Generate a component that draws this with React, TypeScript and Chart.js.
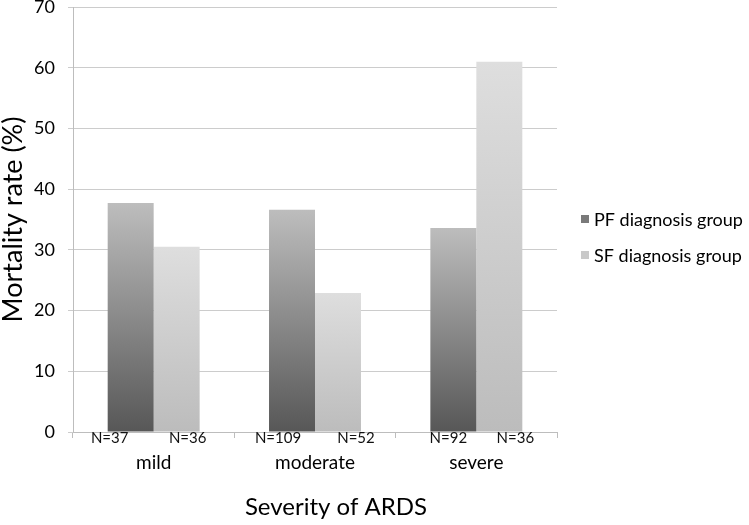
import React, { useEffect, useRef } from "react";
import { Chart, registerables } from "chart.js";

Chart.register(...registerables);

const categories = ["mild", "moderate", "severe"];
const seriesLabels = ["PF diagnosis group", "SF diagnosis group"];
const pfValues = [37.7, 36.6, 33.6];
const sfValues = [30.5, 22.9, 61.0];
const pfN = [37, 109, 92];
const sfN = [36, 52, 36];
const yTicks = [0, 10, 20, 30, 40, 50, 60, 70];

// label nudges (style only), in px from bar centre
const PF_N_NUDGE = [-21, -14, -5];
const SF_N_NUDGE = [11, 18, 16];

const FONT = "Lato, 'Open Sans', 'DejaVu Sans', sans-serif";

function gradFor(ctx: any, top: string, bottom: string) {
  const chart = ctx.chart;
  const y = chart.scales?.y;
  const c = chart.ctx;
  if (!y || ctx.type !== "data") return bottom;
  const v = ctx.raw as number;
  const yTop = y.getPixelForValue(v);
  const yBot = y.getPixelForValue(0);
  if (!isFinite(yTop) || !isFinite(yBot) || yTop === yBot) return bottom;
  const g = c.createLinearGradient(0, yBot, 0, yTop);
  g.addColorStop(0, bottom);
  g.addColorStop(1, top);
  return g;
}

const extrasPlugin = {
  id: "extras",
  afterDraw(chart: any) {
    const ctx = chart.ctx;
    ctx.save();
    // N labels
    ctx.font = `15px ${FONT}`;
    ctx.fillStyle = "#111";
    ctx.textAlign = "center";
    ctx.textBaseline = "middle";
    const nArrays = [pfN, sfN];
    const nudges = [PF_N_NUDGE, SF_N_NUDGE];
    nArrays.forEach((arr, di) => {
      const meta = chart.getDatasetMeta(di);
      meta.data.forEach((bar: any, i: number) => {
        ctx.fillText(`N=${arr[i]}`, bar.x + nudges[di][i], chart.chartArea.bottom + 6);
      });
    });
    // x title
    ctx.font = `24px ${FONT}`;
    ctx.fillStyle = "#000";
    ctx.fillText("Severity of ARDS", 336, 507);
    // legend
    const legendColors = ["#7a7a7a", "#c9c9c9"];
    const ys = [219, 255];
    ctx.textAlign = "left";
    ctx.font = `18px ${FONT}`;
    seriesLabels.forEach((lab, i) => {
      ctx.fillStyle = legendColors[i];
      ctx.fillRect(581, ys[i] - 4, 8, 8);
      ctx.fillStyle = "#000";
      ctx.fillText(lab, 594, ys[i] + 1);
    });
    ctx.restore();
  },
};

export default function App() {
  const ref = useRef<HTMLCanvasElement>(null);
  useEffect(() => {
    if (!ref.current) return;
    const chart = new Chart(ref.current, {
      type: "bar",
      data: {
        labels: categories,
        datasets: [
          {
            label: seriesLabels[0],
            data: pfValues,
            backgroundColor: (ctx: any) => gradFor(ctx, "#bdbdbd", "#575757"),
            borderWidth: 0,
          },
          {
            label: seriesLabels[1],
            data: sfValues,
            backgroundColor: (ctx: any) => gradFor(ctx, "#dedede", "#bcbcbc"),
            borderWidth: 0,
          },
        ],
      },
      options: {
        animation: false,
        responsive: false,
        maintainAspectRatio: false,
        datasets: { bar: { categoryPercentage: 0.57, barPercentage: 1 } },
        layout: { padding: { top: 7, right: 192, left: 0, bottom: 0 } },
        plugins: { legend: { display: false }, tooltip: { enabled: false } },
        scales: {
          x: {
            grid: {
              display: true,
              drawOnChartArea: false,
              drawTicks: true,
              tickLength: 6,
              offset: true,
              color: "#bdbdbd",
            },
            border: { color: "#bdbdbd", width: 1 },
            ticks: {
              color: "#000",
              font: { family: FONT, size: 19 },
              padding: 13,
            },
            afterFit: (s: any) => {
              s.height = 93;
              s.paddingLeft = 0;
              s.paddingRight = 0;
            },
          },
          y: {
            min: 0,
            max: 70,
            afterBuildTicks: (s: any) => {
              s.ticks = yTicks.map((v) => ({ value: v }));
            },
            grid: { color: "#cccccc", tickLength: 5, drawTicks: true },
            border: { color: "#bdbdbd", width: 1 },
            ticks: {
              color: "#000",
              font: { family: FONT, size: 18 },
              padding: 13,
            },
            title: {
              display: true,
              text: "Mortality rate (%)",
              color: "#000",
              font: { family: FONT, size: 27, lineHeight: 1 },
              padding: 0,
            },
            afterFit: (s: any) => {
              s.width = 73;
              s.paddingTop = 0;
              s.paddingBottom = 0;
            },
          },
        },
      },
      plugins: [extrasPlugin],
    });
    return () => chart.destroy();
  }, []);
  return (
    <div style={{ position: "fixed", left: 0, top: 0, width: 749, height: 525, background: "#fff" }}>
      <canvas ref={ref} width={749} height={525} style={{ width: 749, height: 525 }} />
    </div>
  );
}
